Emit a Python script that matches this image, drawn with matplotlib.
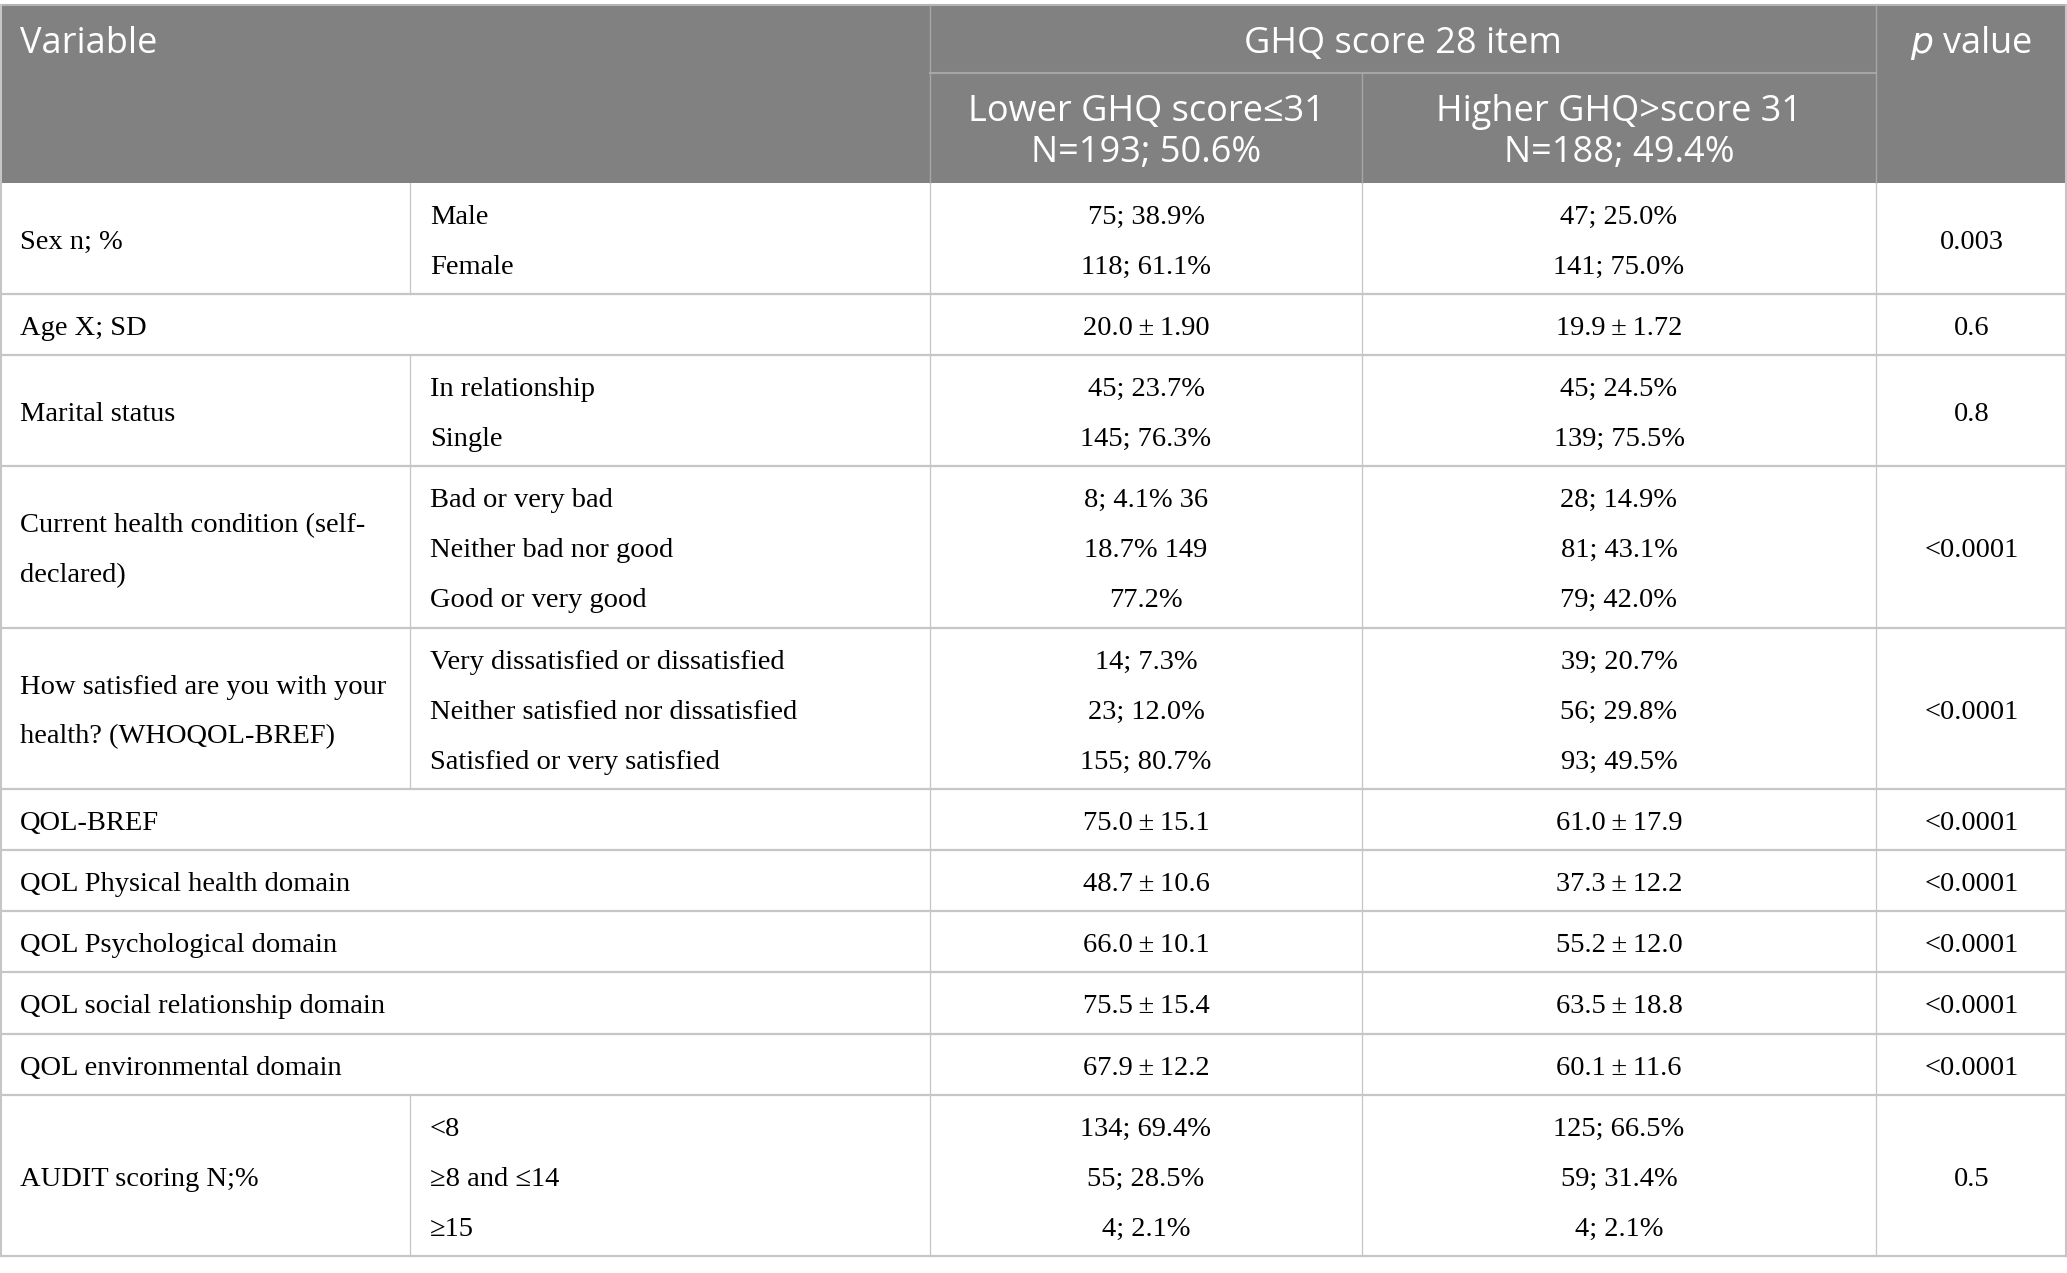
import matplotlib.pyplot as plt

# table content
header_cols = ["Variable", "GHQ score 28 item", "p value"]
sub_headers = [["Lower GHQ score\u226431", "N=193; 50.6%"],
               ["Higher GHQ>score 31", "N=188; 49.4%"]]

variables = [
    ["Sex n; %"],
    ["Age X; SD"],
    ["Marital status"],
    ["Current health condition (self-", "declared)"],
    ["How satisfied are you with your", "health? (WHOQOL-BREF)"],
    ["QOL-BREF"],
    ["QOL Physical health domain"],
    ["QOL Psychological domain"],
    ["QOL social relationship domain"],
    ["QOL environmental domain"],
    ["AUDIT scoring N;%"],
]
levels = [
    ["Male", "Female"],
    [],
    ["In relationship", "Single"],
    ["Bad or very bad", "Neither bad nor good", "Good or very good"],
    ["Very dissatisfied or dissatisfied", "Neither satisfied nor dissatisfied",
     "Satisfied or very satisfied"],
    [], [], [], [], [],
    ["<8", "\u22658 and \u226414", "\u226515"],
]
lower_ghq = [
    ["75; 38.9%", "118; 61.1%"],
    ["20.0\u2009\u00b1\u20091.90"],
    ["45; 23.7%", "145; 76.3%"],
    ["8; 4.1% 36", "18.7% 149", "77.2%"],
    ["14; 7.3%", "23; 12.0%", "155; 80.7%"],
    ["75.0\u2009\u00b1\u200915.1"],
    ["48.7\u2009\u00b1\u200910.6"],
    ["66.0\u2009\u00b1\u200910.1"],
    ["75.5\u2009\u00b1\u200915.4"],
    ["67.9\u2009\u00b1\u200912.2"],
    ["134; 69.4%", "55; 28.5%", "4; 2.1%"],
]
higher_ghq = [
    ["47; 25.0%", "141; 75.0%"],
    ["19.9\u2009\u00b1\u20091.72"],
    ["45; 24.5%", "139; 75.5%"],
    ["28; 14.9%", "81; 43.1%", "79; 42.0%"],
    ["39; 20.7%", "56; 29.8%", "93; 49.5%"],
    ["61.0\u2009\u00b1\u200917.9"],
    ["37.3\u2009\u00b1\u200912.2"],
    ["55.2\u2009\u00b1\u200912.0"],
    ["63.5\u2009\u00b1\u200918.8"],
    ["60.1\u2009\u00b1\u200911.6"],
    ["125; 66.5%", "59; 31.4%", "4; 2.1%"],
]
p_values = ["0.003", "0.6", "0.8", "<0.0001", "<0.0001", "<0.0001", "<0.0001",
            "<0.0001", "<0.0001", "<0.0001", "0.5"]

W, H = 2067, 1273
fig = plt.figure(figsize=(20.67, 12.73), dpi=100)
ax = fig.add_axes([0, 0, 1, 1])
ax.set_xlim(0, W)
ax.set_ylim(H, 0)
ax.axis("off")

hdr_bg = "#808180"
hdr_line = "#a6a6a6"
line_c = "#c6c6c6"
serif = "Liberation Serif"
sans = "Open Sans"
fs_body = 20.5
fs_head = 26

x_sub, x_c1, x_c2, x_c3 = 410, 930, 1362, 1876
top, hdr_mid, hdr_bot = 4.5, 72.5, 182.7
step = 50
cx1 = (x_c1 + x_c2) / 2
cx2 = (x_c2 + x_c3) / 2
cx3 = (x_c3 + W) / 2

# header block
ax.add_patch(plt.Rectangle((0, top), W, hdr_bot - top, color=hdr_bg, lw=0))
ax.plot([x_c1, x_c3], [hdr_mid, hdr_mid], color=hdr_line, lw=1.5)
ax.plot([x_c1, x_c1], [top, hdr_bot], color=hdr_line, lw=1)
ax.plot([x_c2, x_c2], [hdr_mid, hdr_bot], color=hdr_line, lw=1)
ax.plot([x_c3, x_c3], [top, hdr_bot], color=hdr_line, lw=1)
ax.plot([0, W], [top, top], color="#b4b4b4", lw=1.5)

ax.text(20, 52.7, header_cols[0], color="white", fontsize=fs_head, family=sans,
        va="baseline", ha="left")
ax.text((x_c1 + x_c3) / 2, 52.7, header_cols[1], color="white", fontsize=fs_head,
        family=sans, va="baseline", ha="center")
ax.text(cx3, 52.7, "$\\it{p}$ value", color="white", fontsize=fs_head,
        family=sans, va="baseline", ha="center")
for cx, (l1, l2) in zip([cx1, cx2], sub_headers):
    ax.text(cx, 120.7, l1, color="white", fontsize=fs_head, family=sans,
            va="baseline", ha="center")
    ax.text(cx, 161.7, l2, color="white", fontsize=fs_head, family=sans,
            va="baseline", ha="center")

# body rows
y = hdr_bot
for i in range(len(variables)):
    n = max(len(levels[i]), len(lower_ghq[i]), 1)
    h = 61.2 + step * (n - 1)
    yc = y + h / 2
    base = 10.5
    vlines = [x_c1, x_c2, x_c3]
    if levels[i]:
        vlines = [x_sub] + vlines
    for x in vlines:
        ax.plot([x, x], [y, y + h], color=line_c, lw=0.9)
    ax.plot([0, W], [y + h, y + h], color=line_c, lw=1.6)

    def put(x, lines, ha):
        m = len(lines)
        for k, t in enumerate(lines):
            ax.text(x, yc + (k - (m - 1) / 2) * step + base, t, fontsize=fs_body,
                    family=serif, va="baseline", ha=ha)

    put(20, variables[i], "left")
    put(430, levels[i], "left")
    put(cx1, lower_ghq[i], "center")
    put(cx2, higher_ghq[i], "center")
    put(cx3, [p_values[i]], "center")
    y += h

ax.plot([1, 1], [top, y], color=line_c, lw=1.5)
ax.plot([W - 1, W - 1], [top, y], color=line_c, lw=1.5)

fig.savefig("out.png", dpi=100)
